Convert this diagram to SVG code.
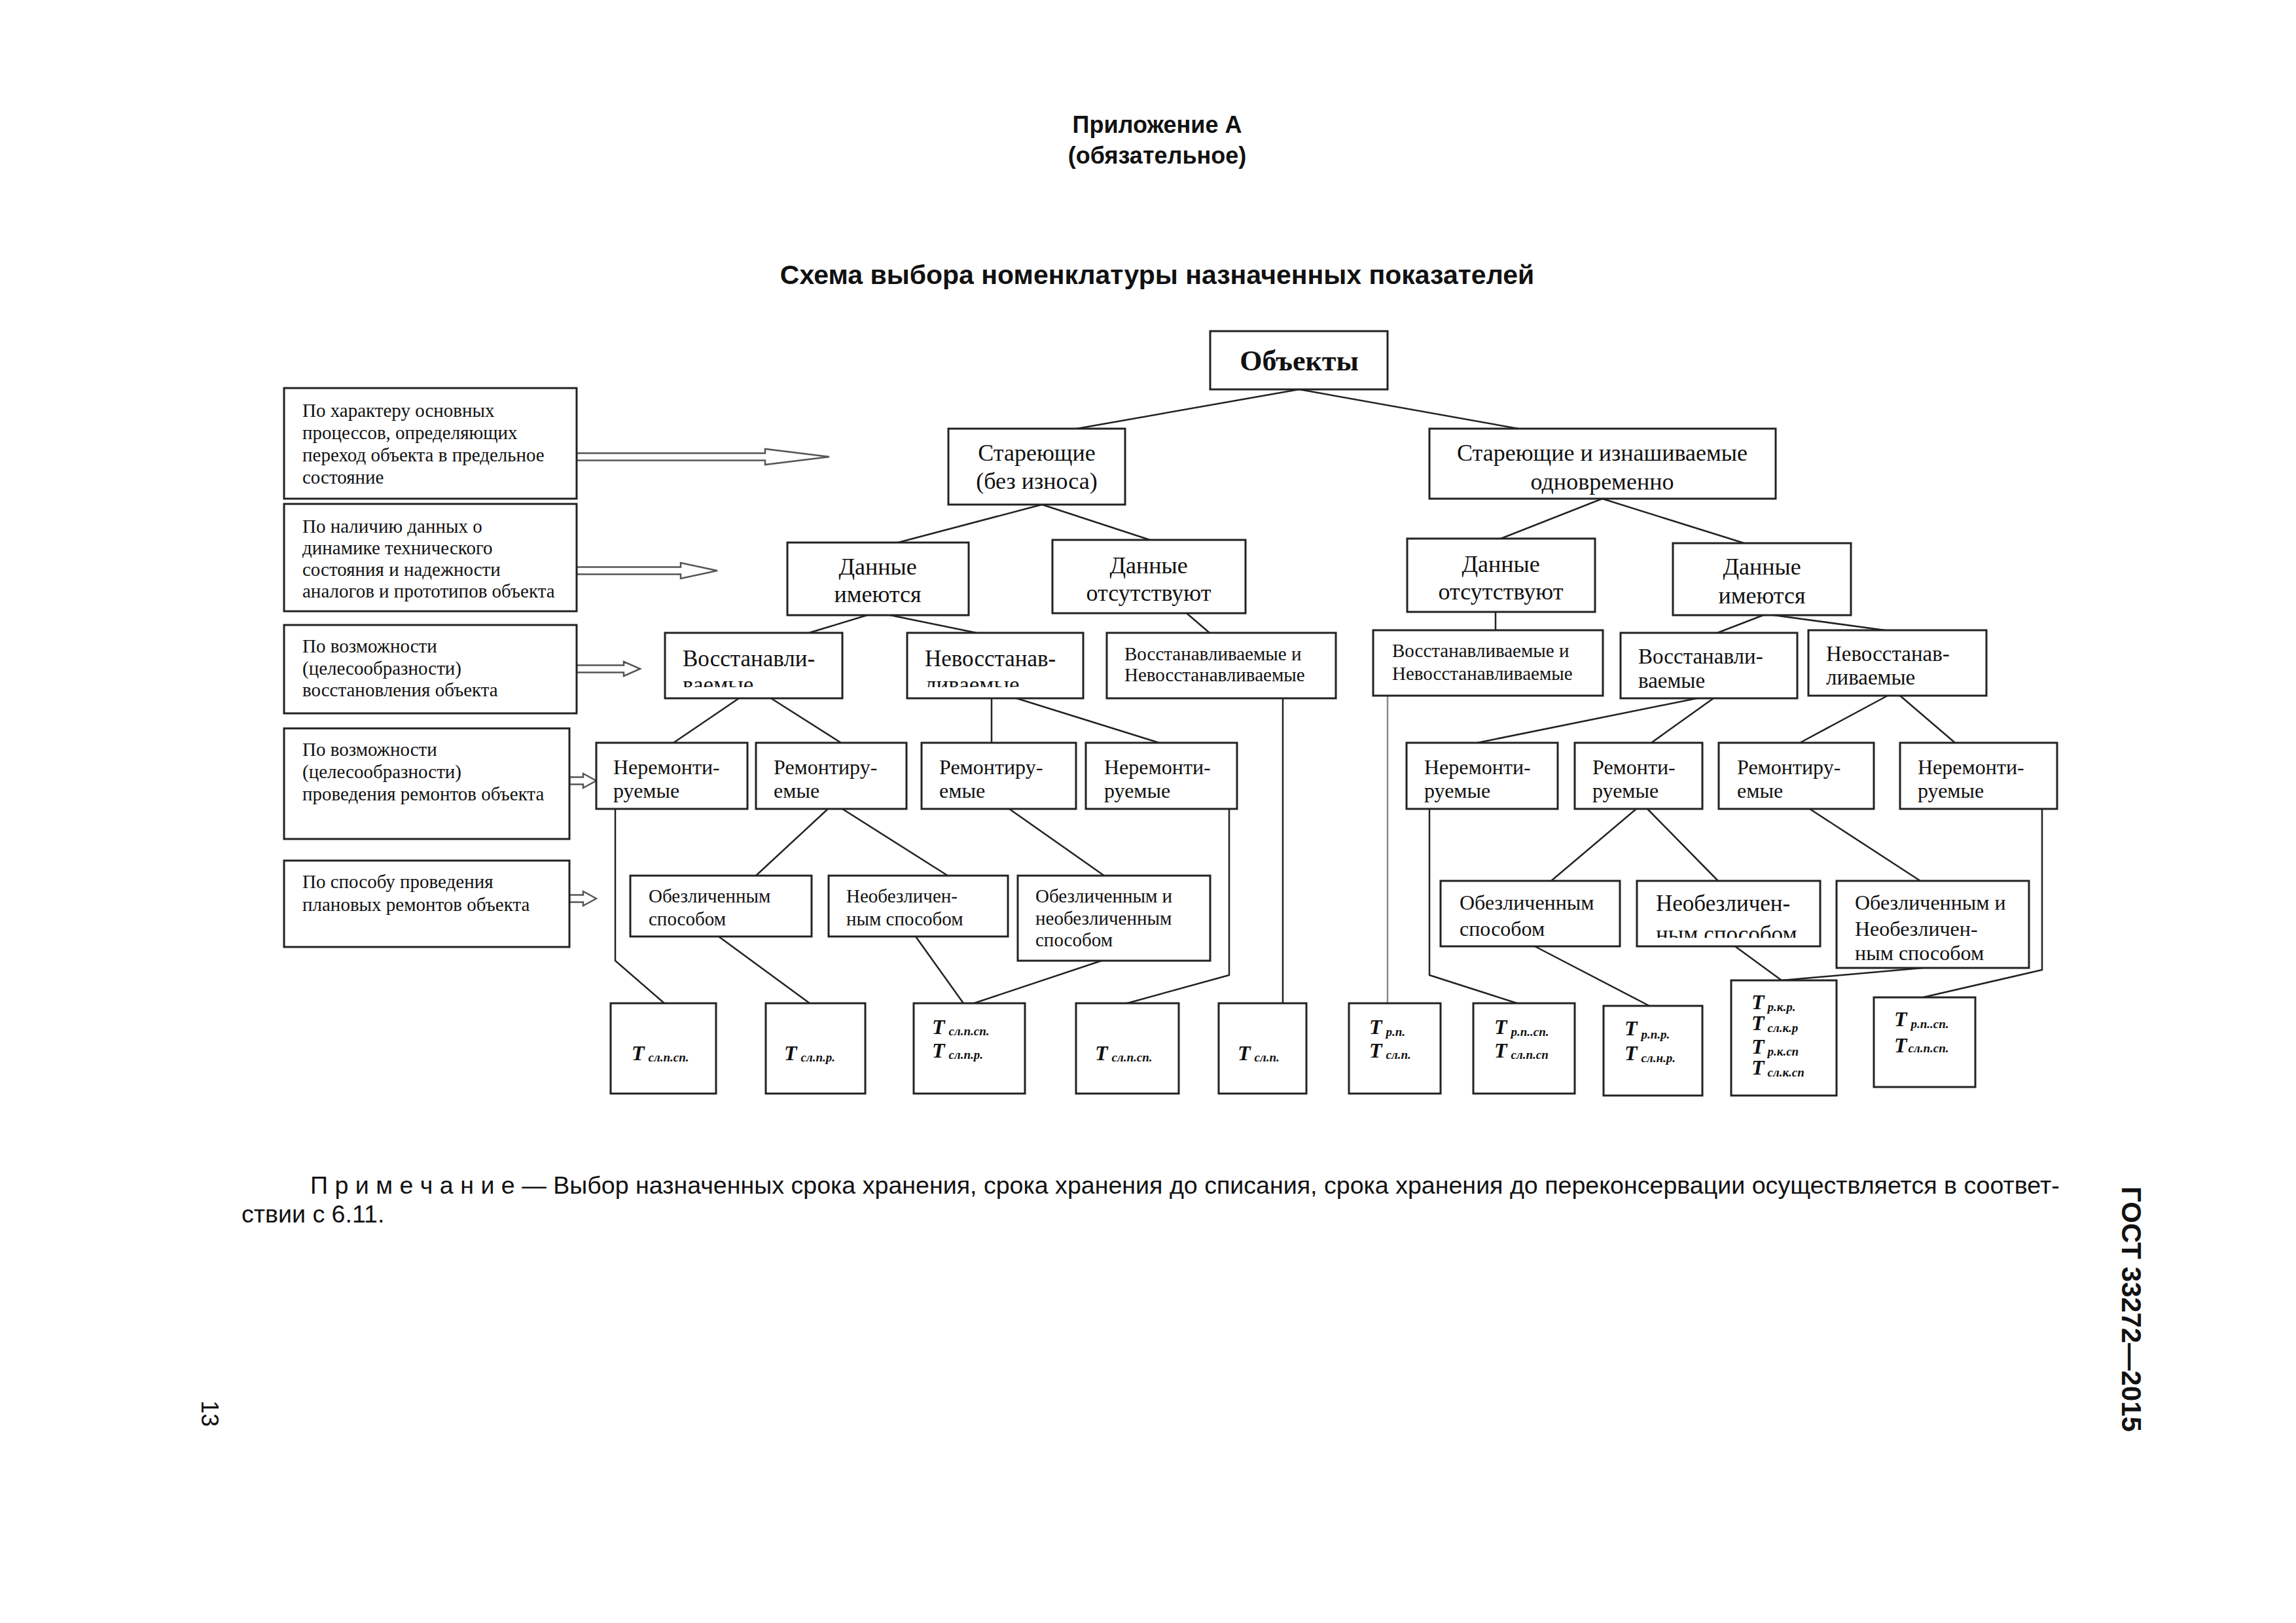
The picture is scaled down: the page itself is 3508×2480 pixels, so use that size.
<svg xmlns="http://www.w3.org/2000/svg" width="3508" height="2480" viewBox="0 0 3508 2480">
<style>
.box{fill:#fff;stroke:#222;stroke-width:3}
.ln{fill:none;stroke:#222;stroke-width:2.5}
.lg{fill:none;stroke:#8a8a8a;stroke-width:2.5}
.ha{fill:#fff;stroke:#555;stroke-width:2.5}
.s{font-family:"Liberation Serif","Times New Roman",serif;fill:#111}
.c{text-anchor:middle}
.f44{font-size:44px}
.f36{font-size:36px}
.f35{font-size:35px}
.f33{font-size:33px}
.f32{font-size:32px}
.f30{font-size:30px}
.f29{font-size:29px}
.t{font-family:"Liberation Serif","Times New Roman",serif;font-style:italic;font-weight:bold;font-size:32px;fill:#111}
.sub{font-size:19px}
.sans{font-family:"Liberation Sans",Arial,sans-serif;fill:#111}
</style>
<defs>
<clipPath id="clipVL"><rect x="1016" y="967" width="271" height="83"/></clipPath>
<clipPath id="clipNL"><rect x="1386" y="967" width="269" height="83"/></clipPath>
<clipPath id="clipNR5"><rect x="2501" y="1346" width="280" height="87"/></clipPath>
</defs>
<rect x="0" y="0" width="3508" height="2480" fill="#fff"/>

<g id="header">
<text class="sans c" x="1768" y="203" font-size="36" font-weight="bold">Приложение А</text>
<text class="sans c" x="1768" y="250" font-size="36" font-weight="bold">(обязательное)</text>
<text class="sans c" x="1768" y="434" font-size="41" font-weight="bold">Схема выбора номенклатуры назначенных показателей</text>
</g>

<g id="connectors">
<g id="hollow-arrows">
<path class="ha" d="M881,692.5 L1169,692.5 L1169,686 L1267,698 L1169,710 L1169,703.5 L881,703.5 Z"/>
<path class="ha" d="M881,866.5 L1040,866.5 L1040,860 L1096,872 L1040,884 L1040,877.5 L881,877.5 Z"/>
<path class="ha" d="M881,1016.5 L953,1016.5 L953,1011 L978,1022 L953,1033 L953,1027.5 L881,1027.5 Z"/>
<path class="ha" d="M870,1187.5 L891,1187.5 L891,1182 L911,1193 L891,1204 L891,1198.5 L870,1198.5 Z"/>
<path class="ha" d="M870,1367.5 L891,1367.5 L891,1362 L911,1373 L891,1384 L891,1378.5 L870,1378.5 Z"/>
</g>
<line class="ln" x1="1985" y1="595" x2="1645" y2="655"/>
<line class="ln" x1="1985" y1="595" x2="2320" y2="655"/>
<line class="ln" x1="1592" y1="771" x2="1372" y2="829"/>
<line class="ln" x1="1592" y1="771" x2="1757" y2="825"/>
<line class="ln" x1="2448" y1="762" x2="2293" y2="823"/>
<line class="ln" x1="2448" y1="762" x2="2665" y2="830"/>
<line class="ln" x1="1325" y1="940" x2="1236" y2="967"/>
<line class="ln" x1="1360" y1="940" x2="1492" y2="967"/>
<line class="ln" x1="1813" y1="937" x2="1848" y2="967"/>
<line class="ln" x1="1129" y1="1067" x2="1029" y2="1135"/>
<line class="ln" x1="1178" y1="1067" x2="1285" y2="1135"/>
<line class="ln" x1="1515" y1="1067" x2="1515" y2="1135"/>
<line class="ln" x1="1553" y1="1067" x2="1771" y2="1135"/>
<line class="ln" x1="1265" y1="1236" x2="1155" y2="1338"/>
<line class="ln" x1="1287" y1="1236" x2="1448" y2="1338"/>
<line class="ln" x1="1542" y1="1236" x2="1687" y2="1338"/>
<polyline class="ln" points="940,1236 940,1468 1015,1533"/>
<line class="ln" x1="1098" y1="1431" x2="1237" y2="1533"/>
<line class="ln" x1="1399" y1="1431" x2="1472" y2="1533"/>
<line class="ln" x1="1683" y1="1468" x2="1488" y2="1533"/>
<polyline class="ln" points="1878,1236 1878,1490 1722,1533"/>
<line class="ln" x1="1960" y1="1067" x2="1960" y2="1533"/>
<line class="ln" x1="2285" y1="935" x2="2285" y2="963"/>
<line class="ln" x1="2694" y1="940" x2="2624" y2="967"/>
<line class="ln" x1="2710" y1="940" x2="2880" y2="963"/>
<line class="ln" x1="2593" y1="1067" x2="2257" y2="1135"/>
<line class="ln" x1="2618" y1="1067" x2="2523" y2="1135"/>
<line class="ln" x1="2884" y1="1063" x2="2750" y2="1135"/>
<line class="ln" x1="2903" y1="1063" x2="2987" y2="1135"/>
<line class="ln" x1="2500" y1="1236" x2="2370" y2="1346"/>
<line class="ln" x1="2517" y1="1236" x2="2625" y2="1346"/>
<line class="ln" x1="2765" y1="1236" x2="2934" y2="1346"/>
<line class="lg" x1="2120" y1="1063" x2="2120" y2="1533"/>
<polyline class="ln" points="2184,1236 2184,1490 2318,1533"/>
<line class="ln" x1="2345" y1="1446" x2="2520" y2="1537"/>
<line class="ln" x1="2651" y1="1446" x2="2722" y2="1498"/>
<line class="ln" x1="2938" y1="1479" x2="2722" y2="1498"/>
<polyline class="ln" points="3120,1236 3120,1482 2938,1524"/>
</g>

<g id="crit1"><rect class="box" x="434" y="593" width="447" height="169"/>
<text class="s f29" x="462" y="637">По характеру основных</text>
<text class="s f29" x="462" y="671">процессов, определяющих</text>
<text class="s f29" x="462" y="705">переход объекта в предельное</text>
<text class="s f29" x="462" y="739">состояние</text></g>
<g id="crit2"><rect class="box" x="434" y="770" width="447" height="164"/>
<text class="s f29" x="462" y="814">По наличию данных о</text>
<text class="s f29" x="462" y="847">динамике технического</text>
<text class="s f29" x="462" y="880">состояния и надежности</text>
<text class="s f29" x="462" y="913">аналогов и прототипов объекта</text></g>
<g id="crit3"><rect class="box" x="434" y="955" width="447" height="135"/>
<text class="s f29" x="462" y="997">По возможности</text>
<text class="s f29" x="462" y="1031">(целесообразности)</text>
<text class="s f29" x="462" y="1064">восстановления объекта</text></g>
<g id="crit4"><rect class="box" x="434" y="1113" width="436" height="169"/>
<text class="s f29" x="462" y="1155">По возможности</text>
<text class="s f29" x="462" y="1189">(целесообразности)</text>
<text class="s f29" x="462" y="1223">проведения ремонтов объекта</text></g>
<g id="crit5"><rect class="box" x="434" y="1315" width="436" height="132"/>
<text class="s f29" x="462" y="1357">По способу проведения</text>
<text class="s f29" x="462" y="1392">плановых ремонтов объекта</text></g>

<g id="objects"><rect class="box" x="1849" y="506" width="271" height="89"/>
<text class="s f44 c" x="1985" y="566" font-weight="bold">Объекты</text></g>
<g id="ageing"><rect class="box" x="1449" y="655" width="270" height="116"/>
<text class="s f36 c" x="1584" y="704">Стареющие</text>
<text class="s f36 c" x="1584" y="747">(без износа)</text></g>
<g id="ageing-wear"><rect class="box" x="2184" y="655" width="529" height="107"/>
<text class="s f36 c" x="2448" y="704">Стареющие и изнашиваемые</text>
<text class="s f36 c" x="2448" y="748">одновременно</text></g>

<g id="data-yes-l"><rect class="box" x="1203" y="829" width="277" height="111"/>
<text class="s f36 c" x="1341" y="878">Данные</text>
<text class="s f36 c" x="1341" y="920">имеются</text></g>
<g id="data-no-l"><rect class="box" x="1608" y="825" width="295" height="112"/>
<text class="s f36 c" x="1755" y="876">Данные</text>
<text class="s f36 c" x="1755" y="918">отсутствуют</text></g>
<g id="data-no-r"><rect class="box" x="2150" y="823" width="287" height="112"/>
<text class="s f36 c" x="2293" y="874">Данные</text>
<text class="s f36 c" x="2293" y="916">отсутствуют</text></g>
<g id="data-yes-r"><rect class="box" x="2556" y="830" width="272" height="110"/>
<text class="s f36 c" x="2692" y="878">Данные</text>
<text class="s f36 c" x="2692" y="922">имеются</text></g>

<g id="restor-l"><rect class="box" x="1016" y="967" width="271" height="100"/>
<text class="s f35" x="1043" y="1018">Восстанавли-</text>
<text class="s f35" x="1043" y="1058" clip-path="url(#clipVL)">ваемые</text></g>
<g id="nonrestor-l"><rect class="box" x="1386" y="967" width="269" height="100"/>
<text class="s f35" x="1413" y="1018">Невосстанав-</text>
<text class="s f35" x="1413" y="1058" clip-path="url(#clipNL)">ливаемые</text></g>
<g id="both-l"><rect class="box" x="1691" y="967" width="350" height="100"/>
<text class="s f29" x="1718" y="1009">Восстанавливаемые и</text>
<text class="s f29" x="1718" y="1041">Невосстанавливаемые</text></g>
<g id="both-r"><rect class="box" x="2098" y="963" width="351" height="100"/>
<text class="s f29" x="2127" y="1004">Восстанавливаемые и</text>
<text class="s f29" x="2127" y="1039">Невосстанавливаемые</text></g>
<g id="restor-r"><rect class="box" x="2476" y="967" width="270" height="100"/>
<text class="s f33" x="2503" y="1014">Восстанавли-</text>
<text class="s f33" x="2503" y="1051">ваемые</text></g>
<g id="nonrestor-r"><rect class="box" x="2763" y="963" width="272" height="100"/>
<text class="s f33" x="2790" y="1010">Невосстанав-</text>
<text class="s f33" x="2790" y="1046">ливаемые</text></g>

<g id="nonrep-1"><rect class="box" x="911" y="1135" width="231" height="101"/>
<text class="s f32" x="937" y="1183">Неремонти-</text>
<text class="s f32" x="937" y="1219">руемые</text></g>
<g id="rep-2"><rect class="box" x="1155" y="1135" width="230" height="101"/>
<text class="s f32" x="1182" y="1183">Ремонтиру-</text>
<text class="s f32" x="1182" y="1219">емые</text></g>
<g id="rep-3"><rect class="box" x="1408" y="1135" width="236" height="101"/>
<text class="s f32" x="1435" y="1183">Ремонтиру-</text>
<text class="s f32" x="1435" y="1219">емые</text></g>
<g id="nonrep-4"><rect class="box" x="1659" y="1135" width="231" height="101"/>
<text class="s f32" x="1687" y="1183">Неремонти-</text>
<text class="s f32" x="1687" y="1219">руемые</text></g>
<g id="nonrep-5"><rect class="box" x="2149" y="1135" width="231" height="101"/>
<text class="s f32" x="2176" y="1183">Неремонти-</text>
<text class="s f32" x="2176" y="1219">руемые</text></g>
<g id="rep-6"><rect class="box" x="2406" y="1135" width="195" height="101"/>
<text class="s f32" x="2433" y="1183">Ремонти-</text>
<text class="s f32" x="2433" y="1219">руемые</text></g>
<g id="rep-7"><rect class="box" x="2626" y="1135" width="237" height="101"/>
<text class="s f32" x="2654" y="1183">Ремонтиру-</text>
<text class="s f32" x="2654" y="1219">емые</text></g>
<g id="nonrep-8"><rect class="box" x="2903" y="1135" width="240" height="101"/>
<text class="s f32" x="2930" y="1183">Неремонти-</text>
<text class="s f32" x="2930" y="1219">руемые</text></g>

<g id="depers-1"><rect class="box" x="963" y="1338" width="277" height="93"/>
<text class="s f29" x="991" y="1379">Обезличенным</text>
<text class="s f29" x="991" y="1414">способом</text></g>
<g id="nondepers-2"><rect class="box" x="1266" y="1338" width="274" height="93"/>
<text class="s f29" x="1293" y="1379">Необезличен-</text>
<text class="s f29" x="1293" y="1414">ным способом</text></g>
<g id="both-depers-3"><rect class="box" x="1555" y="1338" width="294" height="130"/>
<text class="s f29" x="1582" y="1379">Обезличенным и</text>
<text class="s f29" x="1582" y="1413">необезличенным</text>
<text class="s f29" x="1582" y="1446">способом</text></g>
<g id="depers-4"><rect class="box" x="2201" y="1346" width="274" height="100"/>
<text class="s f32" x="2230" y="1390">Обезличенным</text>
<text class="s f32" x="2230" y="1430">способом</text></g>
<g id="nondepers-5"><rect class="box" x="2501" y="1346" width="280" height="100"/>
<text class="s f35" x="2530" y="1392">Необезличен-</text>
<text class="s f35" x="2530" y="1439" clip-path="url(#clipNR5)">ным способом</text></g>
<g id="both-depers-6"><rect class="box" x="2806" y="1346" width="294" height="133"/>
<text class="s f32" x="2834" y="1390">Обезличенным и</text>
<text class="s f32" x="2834" y="1430">Необезличен-</text>
<text class="s f32" x="2834" y="1467">ным способом</text></g>

<g id="t1"><rect class="box" x="933" y="1533" width="161" height="138"/>
<text class="t" x="965" y="1620">T<tspan class="sub" dx="6" dy="2">сл.п.сп.</tspan></text></g>
<g id="t2"><rect class="box" x="1170" y="1533" width="152" height="138"/>
<text class="t" x="1198" y="1620">T<tspan class="sub" dx="6" dy="2">сл.п.р.</tspan></text></g>
<g id="t3"><rect class="box" x="1396" y="1533" width="170" height="138"/>
<text class="t" x="1424" y="1580">T<tspan class="sub" dx="6" dy="2">сл.п.сп.</tspan></text>
<text class="t" x="1424" y="1616">T<tspan class="sub" dx="6" dy="2">сл.п.р.</tspan></text></g>
<g id="t4"><rect class="box" x="1644" y="1533" width="157" height="138"/>
<text class="t" x="1673" y="1620">T<tspan class="sub" dx="6" dy="2">сл.п.сп.</tspan></text></g>
<g id="t5"><rect class="box" x="1862" y="1533" width="134" height="138"/>
<text class="t" x="1891" y="1620">T<tspan class="sub" dx="6" dy="2">сл.п.</tspan></text></g>
<g id="t6"><rect class="box" x="2061" y="1533" width="140" height="138"/>
<text class="t" x="2092" y="1580">T<tspan class="sub" dx="6" dy="3">р.п.</tspan></text>
<text class="t" x="2092" y="1616">T<tspan class="sub" dx="6" dy="2">сл.п.</tspan></text></g>
<g id="t7"><rect class="box" x="2251" y="1533" width="155" height="138"/>
<text class="t" x="2283" y="1580">T<tspan class="sub" dx="6" dy="3">р.п..сп.</tspan></text>
<text class="t" x="2283" y="1616">T<tspan class="sub" dx="6" dy="2">сл.п.сп</tspan></text></g>
<g id="t8"><rect class="box" x="2450" y="1537" width="151" height="137"/>
<text class="t" x="2482" y="1582">T<tspan class="sub" dx="6" dy="5">р.п.р.</tspan></text>
<text class="t" x="2482" y="1620">T<tspan class="sub" dx="6" dy="3">сл.н.р.</tspan></text></g>
<g id="t9"><rect class="box" x="2645" y="1498" width="161" height="176"/>
<text class="t" x="2676" y="1542" font-size="30">T<tspan class="sub" dx="5" dy="3">р.к.р.</tspan></text>
<text class="t" x="2676" y="1574" font-size="30">T<tspan class="sub" dx="5" dy="3">сл.к.р</tspan></text>
<text class="t" x="2676" y="1610" font-size="30">T<tspan class="sub" dx="5" dy="3">р.к.сп</tspan></text>
<text class="t" x="2676" y="1642" font-size="30">T<tspan class="sub" dx="5" dy="3">сл.к.сп</tspan></text></g>
<g id="t10"><rect class="box" x="2863" y="1524" width="155" height="137"/>
<text class="t" x="2894" y="1568">T<tspan class="sub" dx="6" dy="3">р.п..сп.</tspan></text>
<text class="t" x="2894" y="1608">T<tspan class="sub" dx="2" dy="0">сл.п.сп.</tspan></text></g>

<g id="footer">
<text class="sans" x="474" y="1824" font-size="37.6">П р и м е ч а н и е  — Выбор назначенных срока хранения, срока хранения до списания, срока хранения до переконсервации осуществляется в соответ-</text>
<text class="sans" x="369" y="1868" font-size="37.6">ствии с 6.11.</text>
<text class="sans" transform="translate(3242,1813) rotate(90)" font-size="42" font-weight="bold">ГОСТ 33272—2015</text>
<text class="sans" transform="translate(308,2140) rotate(90)" font-size="36">13</text>
</g>
</svg>
